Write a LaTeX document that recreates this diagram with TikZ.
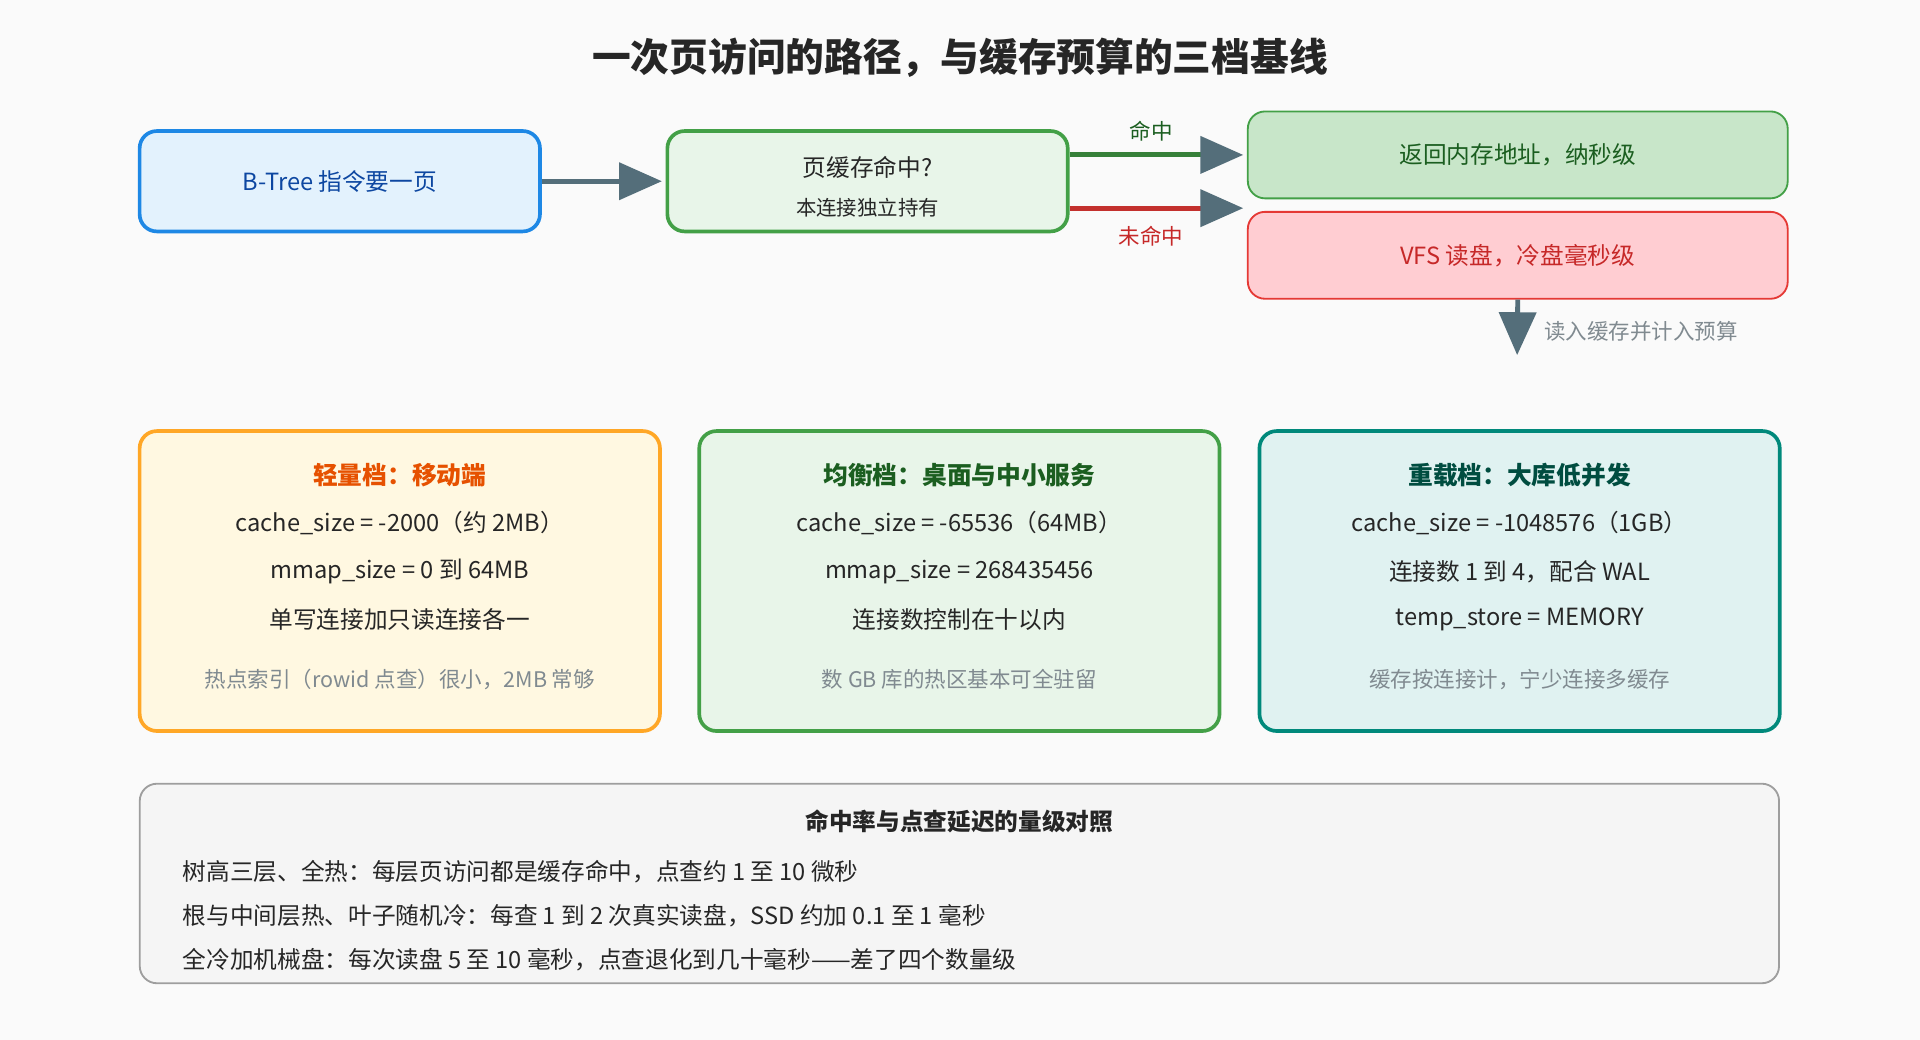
\documentclass[tikz,border=0pt]{standalone}
\usepackage{fontspec}
\setmainfont{Noto Sans CJK SC}
\usepackage{xcolor}
\usetikzlibrary{arrows.meta,calc,positioning}
\definecolor{bgGrey}{HTML}{FAFAFA}
\definecolor{arrowGrey}{HTML}{546E7A}
\definecolor{noteGrey}{HTML}{808A90}
\definecolor{blueLine}{HTML}{1E88E5}
\definecolor{blueFill}{HTML}{E3F2FD}
\definecolor{blueText}{HTML}{0D47A1}
\definecolor{greenLine}{HTML}{43A047}
\definecolor{greenFill}{HTML}{E8F5E9}
\definecolor{greenDark}{HTML}{1B5E20}
\definecolor{hitFill}{HTML}{C8E6C9}
\definecolor{redLine}{HTML}{E53935}
\definecolor{redFill}{HTML}{FFCDD2}
\definecolor{redText}{HTML}{C62828}
\definecolor{orangeLine}{HTML}{FFA726}
\definecolor{orangeFill}{HTML}{FFF8E1}
\definecolor{orangeText}{HTML}{E65100}
\definecolor{tealLine}{HTML}{00897B}
\definecolor{tealFill}{HTML}{E0F2F1}
\definecolor{tealText}{HTML}{004D40}
\definecolor{boxGrey}{HTML}{9E9E9E}
\definecolor{panelGrey}{HTML}{F5F5F5}
\tikzstyle{tsText} = [
    text=black!85,
    font=\fontsize{11}{14}\selectfont
]
\tikzstyle{tsBox} = [
    rectangle,
    rounded corners=8pt,
    line width=0.06cm,
    inner sep=0pt
]
\tikzstyle{tsTier} = [
    tsBox,
    minimum width=8.5cm,
    minimum height=4.9cm
]
\tikzstyle{tsArrow} = [
    line width=0.08cm,
    -{Triangle[length=0.7cm,width=0.6cm,color=arrowGrey]}
]
\tikzstyle{tsNote} = [
    text=noteGrey,
    font=\fontsize{10}{12}\selectfont
]

\begin{document}
\begin{tikzpicture}[x=0.02cm, y=-0.02cm]
        \fill[bgGrey] (0,0) rectangle (1568,849);

        % Title
        \node[font=\fontsize{18}{22}\selectfont\bfseries, text=black!85] (title) at (784,47) {一次页访问的路径，与缓存预算的三档基线};

        % Path row
        \node[  tsBox, draw=blueLine, fill=blueFill,
                minimum width=6.54cm, minimum height=1.64cm,
                tsText, text=blueText] (req) at (277.5,148) {B-Tree 指令要一页};
        \node[  tsBox, draw=greenLine, fill=greenFill,
                minimum width=6.54cm, minimum height=1.64cm] (cache) at (708.5,148) {};
        \node[tsText] (cacheQ) at (708.5,137) {页缓存命中?};
        \node[tsText, font=\fontsize{9.5}{12}\selectfont] (cacheOwn) at (708.5,170) {本连接独立持有};
        \node[  tsBox, draw=greenLine, fill=hitFill, line width=0.03cm,
                minimum width=8.82cm, minimum height=1.42cm,
                tsText, text=greenDark] (hit) at (1239.5,126.5) {返回内存地址，纳秒级};
        \node[  tsBox, draw=redLine, fill=redFill, line width=0.03cm,
                minimum width=8.82cm, minimum height=1.42cm,
                tsText, text=redText] (miss) at (1239.5,208.5) {VFS 读盘，冷盘毫秒级};

        \draw[tsArrow, arrowGrey] (req.east) -- ([xshift=-0.06cm]cache.west);
        \draw[tsArrow, greenLine!80!black] (cache.east |- hit.west) -- ([xshift=-0.06cm]hit.west);
        \draw[tsArrow, redLine!85!black] ([yshift=-0.44cm]cache.east) coordinate (missFrom) -- ([xshift=-0.06cm]missFrom -| miss.west);
        \node[tsText, text=greenDark, font=\fontsize{10}{12}\selectfont] (hitLbl) at (940,107) {命中};
        \node[tsText, text=redText, font=\fontsize{10}{12}\selectfont] (missLbl) at (940,193) {未命中};
        \coordinate (load) at (1239,290);
        \draw[tsArrow, arrowGrey] (miss.south) -- (load);
        \node[tsNote, anchor=west] (loadLbl) at (1255,271) {读入缓存并计入预算};

        % Tiers
        \node[tsTier, draw=orangeLine, fill=orangeFill] (light) at (326.5,474.5) {};
        \node[tsTier, draw=greenLine, fill=greenFill] (balanced) at (783.5,474.5) {};
        \node[tsTier, draw=tealLine, fill=tealFill] (heavy) at (1241,474.5) {};

        \node[tsText, text=orangeText, font=\fontsize{11.5}{14}\selectfont\bfseries] at (326.5,388) {轻量档：移动端};
        \node[tsText] at (326.5,427) {cache\_size = -2000（约 2MB）};
        \node[tsText] at (326.5,467) {mmap\_size = 0 到 64MB};
        \node[tsText] at (326.5,506) {单写连接加只读连接各一};
        \node[tsNote] at (326.5,555) {热点索引（rowid 点查）很小，2MB 常够};

        \node[tsText, text=greenDark, font=\fontsize{11.5}{14}\selectfont\bfseries] at (783.5,388) {均衡档：桌面与中小服务};
        \node[tsText] at (783.5,427) {cache\_size = -65536（64MB）};
        \node[tsText] at (783.5,467) {mmap\_size = 268435456};
        \node[tsText] at (783.5,506) {连接数控制在十以内};
        \node[tsNote] at (783.5,555) {数 GB 库的热区基本可全驻留};

        \node[tsText, text=tealText, font=\fontsize{11.5}{14}\selectfont\bfseries] at (1241,388) {重载档：大库低并发};
        \node[tsText] at (1241,427) {cache\_size = -1048576（1GB）};
        \node[tsText] at (1241,467) {连接数 1 到 4，配合 WAL};
        \node[tsText] at (1241,506) {temp\_store = MEMORY};
        \node[tsNote] at (1241,555) {缓存按连接计，宁少连接多缓存};

        % Latency panel
        \node[  tsBox, draw=boxGrey, fill=panelGrey, line width=0.03cm,
                minimum width=26.78cm, minimum height=3.26cm] (panel) at (783.5,721.5) {};
        \node[tsText, font=\fontsize{11}{14}\selectfont\bfseries] at (783.5,671) {命中率与点查延迟的量级对照};
        \node[tsText, anchor=west] at (143,712) {树高三层、全热：每层页访问都是缓存命中，点查约 1 至 10 微秒};
        \node[tsText, anchor=west] at (143,748) {根与中间层热、叶子随机冷：每查 1 到 2 次真实读盘，SSD 约加 0.1 至 1 毫秒};
        \node[tsText, anchor=west] at (143,784) {全冷加机械盘：每次读盘 5 至 10 毫秒，点查退化到几十毫秒——差了四个数量级};
    \end{tikzpicture}
\end{document}
